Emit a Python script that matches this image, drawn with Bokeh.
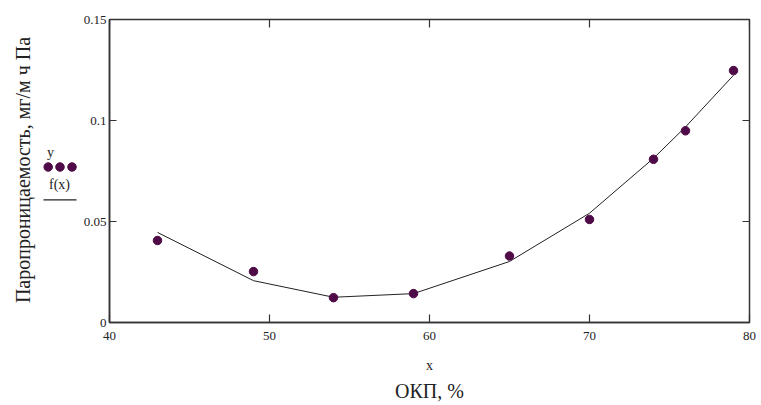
import numpy as np
from bokeh.plotting import figure
from bokeh.layouts import row
from bokeh.models import LinearAxis, FixedTicker, NumeralTickFormatter, Range1d
from bokeh.core.properties import value
from bokeh.embed import file_html
from bokeh.resources import INLINE

# ---- data ----
x_vals = [43, 49, 54, 59, 65, 70, 74, 76, 79]
y_vals = [0.0406, 0.0252, 0.0123, 0.0143, 0.0329, 0.0510, 0.0808, 0.0949, 0.1247]
fx_vals = [0.0446, 0.0207, 0.0125, 0.0143, 0.0302, 0.0541, 0.0813, 0.0968, 0.1224]
x_ticks = [40, 50, 60, 70, 80]
y_ticks = [0, 0.05, 0.1, 0.15]
y_title = "Паропроницаемость, мг/м ч Па"
x_title = "x"
x_caption = "ОКП, %"
legend_series = "y"
legend_fit = "f(x)"

FONT = "Liberation Serif"
DOT = "#4f0b47"
INK = "#222222"
EDGE = "#333333"
W, H = 760, 404
LW = 80                      # width of the side strip holding title + legend
TOP, BOT = 19, 323           # frame top / bottom in pixels
FH = BOT - TOP

# ---------------- side strip: y title and Mathcad-style legend ----------------
# its frame spans the same rows as the main frame; y data = pixels above the frame bottom
side = figure(width=LW, height=H, output_backend="svg", toolbar_location=None,
              x_range=Range1d(0, LW), y_range=Range1d(0, FH),
              x_axis_location=None, y_axis_location=None,
              min_border_left=0, min_border_right=0,
              min_border_top=TOP, min_border_bottom=H - BOT)
side.xgrid.visible = False
side.ygrid.visible = False
side.outline_line_color = None
side.background_fill_color = "white"
side.border_fill_color = "white"

side.text(x=[22], y=[BOT - 170], text=[y_title], angle=np.pi / 2,
          text_align="center", text_baseline="middle",
          text_font=value(FONT), text_font_size="20px", text_color=INK)
side.text(x=[50], y=[BOT - 152], text=[legend_series],
          text_align="center", text_baseline="middle",
          text_font=value(FONT), text_font_size="14px", text_color=INK)
side.scatter(x=[47.7, 59.5, 71.5], y=[BOT - 167] * 3, size=8.5,
             fill_color=DOT, line_color=DOT)
side.text(x=[59], y=[BOT - 185], text=[legend_fit],
          text_align="center", text_baseline="middle",
          text_font=value(FONT), text_font_size="14px", text_color=INK)
side.line(x=[43, 76], y=[BOT - 200, BOT - 200], line_color=INK, line_width=1.2)

# ---------------- main plot ----------------
p = figure(width=W - LW, height=H, output_backend="svg", toolbar_location=None,
           x_range=Range1d(40, 80), y_range=Range1d(0, 0.15),
           x_axis_location=None, y_axis_location=None,
           min_border_left=108 - LW, min_border_right=W - 749, min_border_top=TOP,
           min_border_bottom=H - BOT)
p.xgrid.visible = False
p.ygrid.visible = False
p.outline_line_color = EDGE
p.outline_line_width = 1.5
p.background_fill_color = "white"
p.border_fill_color = "white"


def make_axis(ticks, tick_len):
    ax = LinearAxis(ticker=FixedTicker(ticks=ticks))
    ax.major_tick_in = tick_len
    ax.major_tick_out = 0
    ax.minor_tick_line_color = None
    ax.major_tick_line_color = EDGE
    ax.major_tick_line_width = 1.2
    ax.axis_line_color = EDGE
    ax.axis_line_width = 1.5
    ax.major_label_text_font = FONT
    ax.major_label_text_font_size = "13px"
    ax.major_label_text_color = INK
    return ax


bottom = make_axis(x_ticks, 8)
bottom.major_label_standoff = 9
bottom.axis_label = x_title
bottom.axis_label_text_font = FONT
bottom.axis_label_text_font_size = "14px"
bottom.axis_label_text_font_style = "normal"
bottom.axis_label_text_color = INK
bottom.axis_label_standoff = 15
p.add_layout(bottom, "below")

caption = LinearAxis(ticker=FixedTicker(ticks=[]))
caption.axis_line_color = None
caption.major_tick_line_color = None
caption.minor_tick_line_color = None
caption.major_tick_in = 0
caption.major_tick_out = 0
caption.major_label_standoff = 0
caption.axis_label = x_caption
caption.axis_label_text_font = FONT
caption.axis_label_text_font_size = "20px"
caption.axis_label_text_font_style = "normal"
caption.axis_label_text_color = INK
caption.axis_label_standoff = 4
p.add_layout(caption, "below")

left = make_axis(y_ticks, 7)
left.formatter = NumeralTickFormatter(format="0.[00]")
left.major_label_standoff = 3
p.add_layout(left, "left")

# inward ticks mirrored on the top and right edges
p.ray(x=x_ticks, y=[0.15] * len(x_ticks), length=8, length_units="screen",
      angle=-np.pi / 2, line_color=EDGE, line_width=1.2)
p.ray(x=[80] * len(y_ticks), y=y_ticks, length=7, length_units="screen",
      angle=np.pi, line_color=EDGE, line_width=1.2)

# ---- data marks ----
p.line(x_vals, fx_vals, line_color=INK, line_width=1)
p.scatter(x_vals, y_vals, size=8.5, fill_color=DOT, line_color=DOT)

layout = row(side, p)
open("out.html", "w").write(file_html(layout, INLINE))
